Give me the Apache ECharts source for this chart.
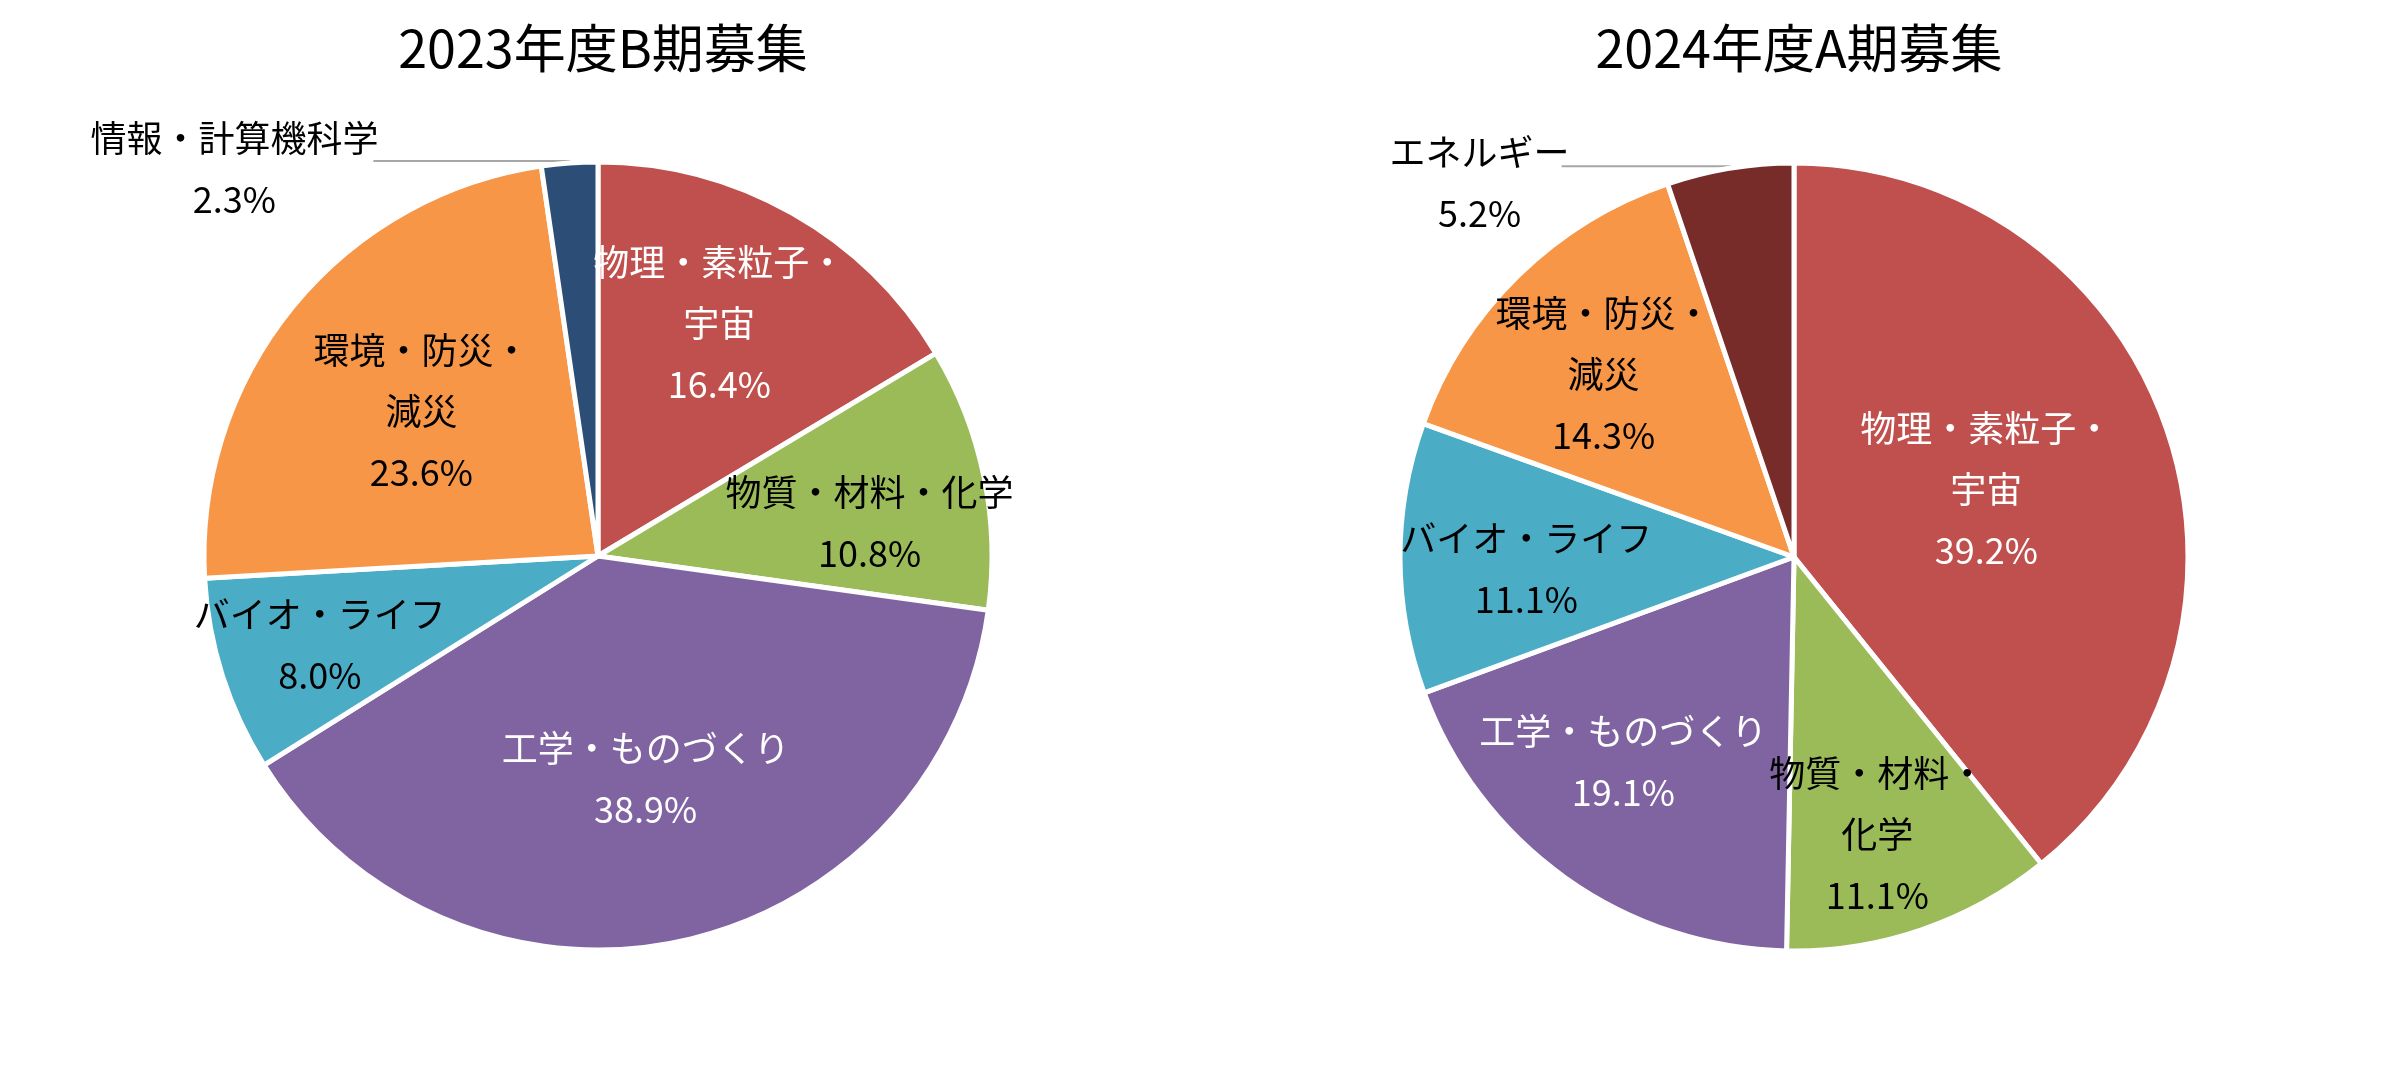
<!DOCTYPE html>
<html>
<head>
<meta charset="utf-8">
<script src="https://cdn.jsdelivr.net/npm/echarts@6/dist/echarts.min.js"></script>
<style>
html, body { margin: 0; padding: 0; background: #fff; }
#chart { width: 2392px; height: 1067px; }
</style>
</head>
<body>
<div id="chart"></div>
<script>
// 2023 B period
const fields2023 = ['物理・素粒子・宇宙', '物質・材料・化学', '工学・ものづくり', 'バイオ・ライフ', '環境・防災・減災', '情報・計算機科学'];
const values2023 = [16.4, 10.8, 38.9, 8.0, 23.6, 2.3];
// 2024 A period
const fields2024 = ['物理・素粒子・宇宙', '物質・材料・化学', '工学・ものづくり', 'バイオ・ライフ', '環境・防災・減災', 'エネルギー'];
const values2024 = [39.2, 11.1, 19.1, 11.1, 14.3, 5.2];

// how the labels wrap in the original
const wrap2023 = ['物理・素粒子・\n宇宙', '物質・材料・化学', '工学・ものづくり', 'バイオ・ライフ', '環境・防災・\n減災', '情報・計算機科学'];
const wrap2024 = ['物理・素粒子・\n宇宙', '物質・材料・\n化学', '工学・ものづくり', 'バイオ・ライフ', '環境・防災・\n減災', 'エネルギー'];

const colors2023 = ['#C0504D', '#9BBB59', '#8064A2', '#4BACC6', '#F79646', '#2C4D75'];
const colors2024 = ['#C0504D', '#9BBB59', '#8064A2', '#4BACC6', '#F79646', '#772C2A'];
const textColors = ['#fff', '#000', '#fff', '#000', '#000', '#000'];

// inside labels: distance as a fraction of the radius, and turn (deg) off the slice middle
const labelR2023 = [0.656, 0.684, 0.57, 0.73, 0.57, null];
const labelTurn2023 = [-2, 4.6, 0, 0, 0, 0];
const labelR2024 = [0.51, 0.725, 0.667, 0.67, 0.66, null];
const labelTurn2024 = [0, 2.2, 4.3, -2.4, -1.7, 0];

const FONT = '"Noto Sans CJK JP", "Noto Sans", sans-serif';
const W = 2392, H = 1067;
const R = 394;
const centerL = [598, 556];
const centerR = [1794, 557];

function pct(v) {
    return v.toFixed(1) + '%';
}

function buildData(fields, values, wrap, colors, out) {
    return fields.map(function (name, i) {
        const item = {
            name: name,
            value: values[i],
            itemStyle: { color: colors[i] },
            label: {
                color: textColors[i],
                formatter: wrap[i] + '\n' + pct(values[i])
            }
        };
        if (i === fields.length - 1) {
            // small slice: label outside with a flat leader line, lines centred
            const tok = {
                width: out.w, align: 'center', fontSize: 36, lineHeight: 61,
                padding: [out.pad, 0, 0, 0], color: '#000', fontFamily: FONT
            };
            item.label = {
                position: 'outside',
                formatter: '{t|' + wrap[i] + '}\n{t|' + pct(values[i]) + '}',
                rich: { t: tok }
            };
            item.labelLine = {
                show: true,
                length: 2,
                length2: out.len2,
                lineStyle: { color: '#A6A6A6', width: 2 }
            };
        }
        return item;
    });
}

function placeLabel(center, fracs, turns) {
    return function (params) {
        const f = fracs[params.dataIndex];
        if (f == null) return {};
        const r = params.labelRect;
        const lx = r.x + r.width / 2;
        const ly = r.y + r.height / 2;
        // default inside label sits at half the radius
        const ux = (lx - center[0]) / (R / 2);
        const uy = (ly - center[1]) / (R / 2);
        const t = turns[params.dataIndex] * Math.PI / 180;
        const vx = ux * Math.cos(t) - uy * Math.sin(t);
        const vy = ux * Math.sin(t) + uy * Math.cos(t);
        return {
            dx: center[0] + vx * f * R - lx,
            dy: center[1] + vy * f * R - ly
        };
    };
}

function pieSeries(center, data, fracs, turns) {
    return {
        type: 'pie',
        center: center,
        radius: [0, R],
        startAngle: 90,
        clockwise: true,
        avoidLabelOverlap: false,
        silent: true,
        itemStyle: { borderColor: '#fff', borderWidth: 5 },
        label: {
            show: true,
            position: 'inside',
            fontSize: 36,
            lineHeight: 61,
            fontFamily: FONT,
            align: 'center'
        },
        labelLine: { show: false },
        labelLayout: placeLabel(center, fracs, turns),
        emphasis: { disabled: true },
        data: data
    };
}

const chart = echarts.init(document.getElementById('chart'), null, { width: W, height: H });

chart.setOption({
    backgroundColor: '#fff',
    animation: false,
    title: [{
        text: '2023年度B期募集',
        left: centerL[0],
        top: 17,
        textAlign: 'center',
        textStyle: { fontSize: 52, fontWeight: 'normal', color: '#000', fontFamily: FONT }
    }, {
        text: '2024年度A期募集',
        left: centerR[0],
        top: 17,
        textAlign: 'center',
        textStyle: { fontSize: 52, fontWeight: 'normal', color: '#000', fontFamily: FONT }
    }],
    series: [
        pieSeries(centerL, buildData(fields2023, values2023, wrap2023, colors2023, { w: 268, len2: 196, pad: 16 }), labelR2023, labelTurn2023),
        pieSeries(centerR, buildData(fields2024, values2024, wrap2024, colors2024, { w: 154, len2: 168, pad: 34 }), labelR2024, labelTurn2024)
    ]
});
</script>
</body>
</html>
